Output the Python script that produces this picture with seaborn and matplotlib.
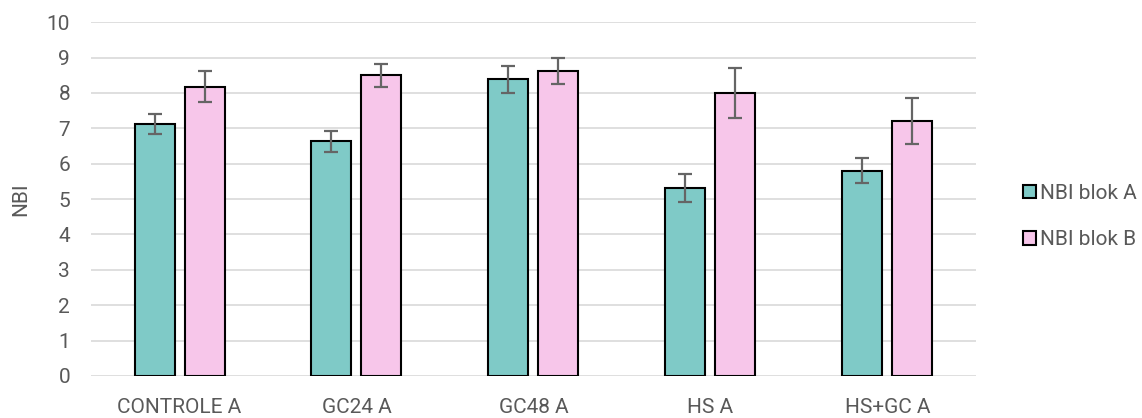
import pandas as pd
import seaborn as sns
import matplotlib.pyplot as plt

groups = ["CONTROLE A", "GC24 A", "GC48 A", "HS A", "HS+GC A"]
blok_a = [7.12, 6.63, 8.38, 5.31, 5.80]
blok_b = [8.18, 8.50, 8.61, 7.99, 7.21]
err_a = [0.29, 0.29, 0.37, 0.40, 0.35]
err_b = [0.43, 0.33, 0.37, 0.71, 0.65]
series = ["NBI blok A", "NBI blok B"]

df = pd.DataFrame({
    "group": groups * 2,
    "NBI": blok_a + blok_b,
    "err": err_a + err_b,
    "serie": [series[0]] * 5 + [series[1]] * 5,
})

sns.set_style("white")
plt.rcParams["font.family"] = ["Roboto", "DejaVu Sans"]

fig = plt.figure(figsize=(11.42, 4.18), dpi=100)
ax = fig.add_axes([0.0797, 0.1005, 0.7749, 0.8465])

palette = {series[0]: "#7fcac7", series[1]: "#f7c6ea"}
sns.barplot(data=df, x="group", y="NBI", hue="serie", palette=palette,
            width=0.565, gap=0.2, edgecolor="black", linewidth=1.5,
            errorbar=None, saturation=1, ax=ax, zorder=3)

# error bars on top of each bar
for cont, s in zip(ax.containers, series):
    sub = df[df["serie"] == s]
    xs = [p.get_x() + p.get_width() / 2 for p in cont.patches]
    ax.errorbar(xs, sub["NBI"], yerr=sub["err"], fmt="none",
                ecolor="#656565", elinewidth=1.6, capsize=5, capthick=1.6, zorder=4)

ax.set_ylim(0, 10)
ax.set_xlim(-0.5, 4.5)
ax.set_yticks(range(0, 11))
ax.yaxis.grid(True, color="#d9d9d9", linewidth=1.2, zorder=0)
ax.set_axisbelow(True)
for sp in ax.spines.values():
    sp.set_visible(False)
ax.tick_params(axis="both", length=0, labelsize=15, colors="#595959")
ax.tick_params(axis="x", pad=16)
ax.tick_params(axis="y", pad=15)
ax.set_xlabel("")
ax.set_ylabel("NBI", fontsize=15, color="#595959", labelpad=12)

ax.legend(loc="center left", bbox_to_anchor=(1.032, 0.45), frameon=False,
          fontsize=15, labelcolor="#595959", handlelength=0.6, handleheight=0.6,
          handletextpad=0.2, labelspacing=1.3)

fig.savefig("out.png", dpi=100)
